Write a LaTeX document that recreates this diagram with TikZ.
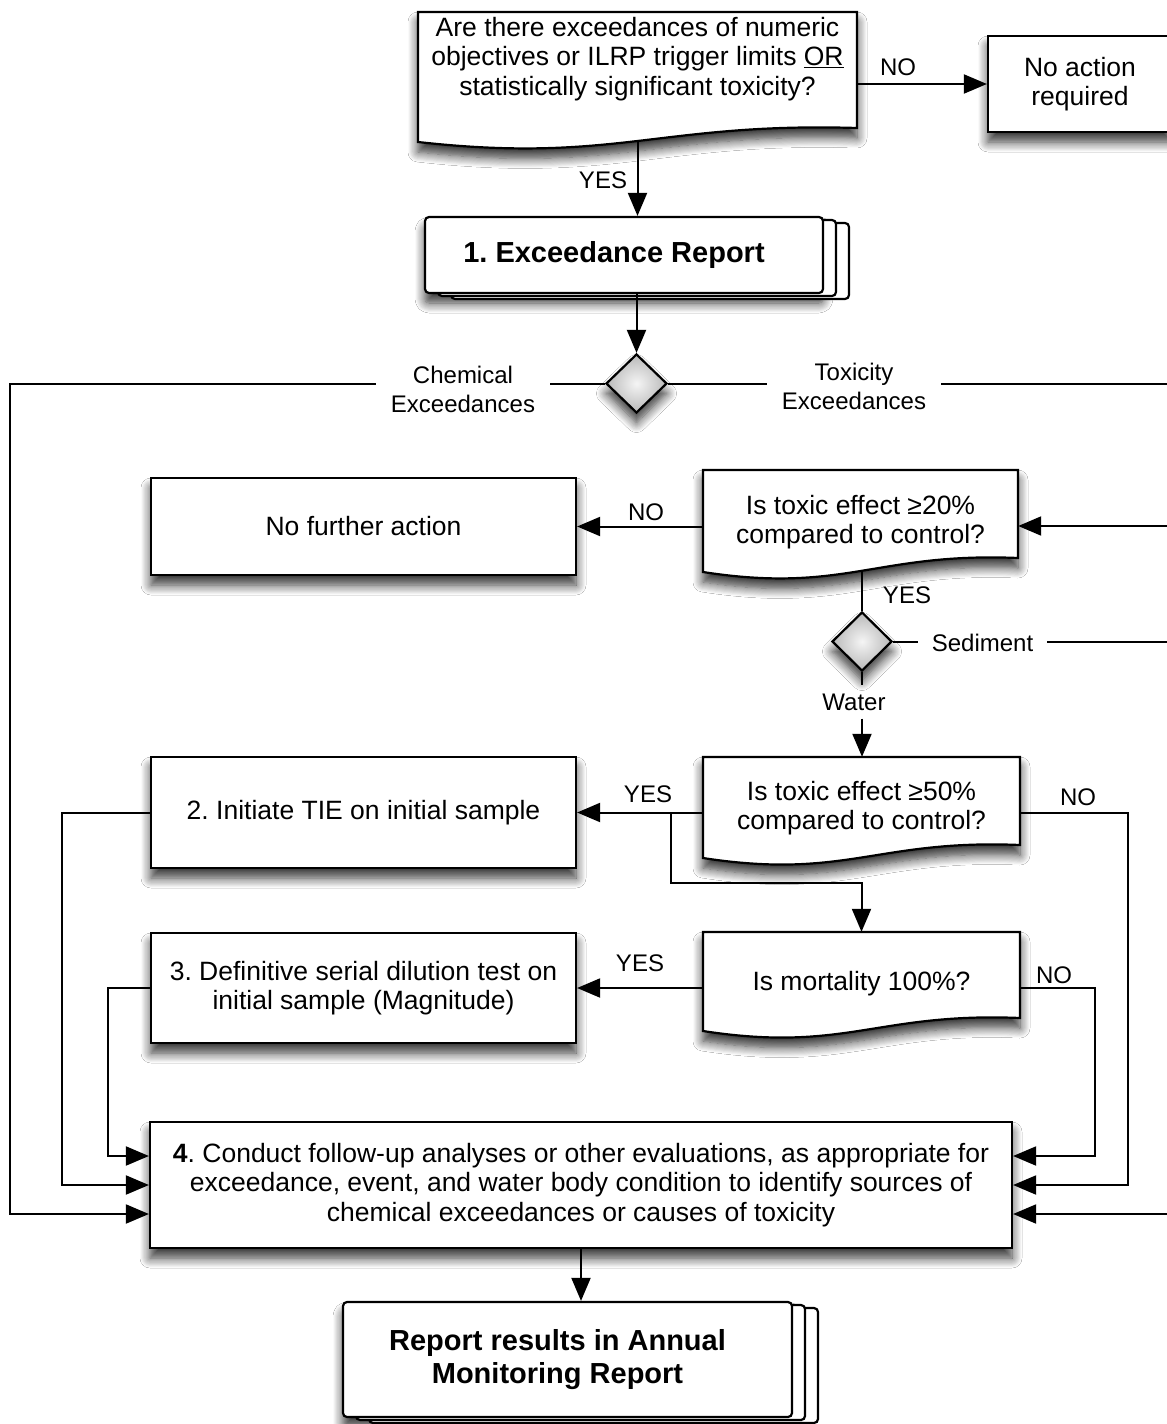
\documentclass[tikz,border=0pt]{standalone}
\usepackage{fontspec}
\setmainfont{Liberation Sans}
\usetikzlibrary{arrows.meta,shapes.geometric,shadows,shadows.blur,calc}
\newcommand\docpath[6]{% name L T R yr yl
  \path[docsh] (#2,#3) -- (#4,#3) -- (#4,#5)
    .. controls ({#4-0.45*(#4-#2)},{#5-6}) and ({#2+0.45*(#4-#2)},{#6+22}) .. (#2,#6) -- cycle;
  \coordinate (#1-bot) at ({(#2+#4)/2},{(#5+#6)/2+6});}
\frenchspacing
\begin{document}
\frenchspacing
\begin{tikzpicture}[x=1pt,y=-1pt,
  every node/.style={inner sep=0pt},
  bodytxt/.style={font=\frenchspacing\fontsize{26.5}{29.5}\selectfont, align=center},
  lbl/.style={font=\fontsize{24}{29}\selectfont, align=center, inner xsep=15pt, inner ysep=4pt},
  boxsh/.style={blur shadow={shadow xshift=0pt, shadow yshift=-10pt, shadow blur radius=10pt, shadow opacity=80, shadow blur steps=10}},
  procbox/.style={draw, line width=2.2pt, fill=white, boxsh, bodytxt},
  multibox/.style={draw, line width=2.2pt, fill=white, rounded corners=4pt, boxsh,
    double copy shadow={shadow xshift=13pt, shadow yshift=-3pt},
    font=\frenchspacing\bfseries\fontsize{29}{33}\selectfont, align=center},
  docsh/.style={draw, line width=2.2pt, fill=white, boxsh},
  qtxt/.style={bodytxt},
  dia/.style={diamond, draw, line width=2.2pt, inner color=gray!8, outer color=gray!55, boxsh},
  conn/.style={line width=2pt},
  arr/.style={conn, -{Triangle[length=23pt,width=19pt,fill=black]}},
]
\useasboundingbox (0,0) rectangle (1167,1424);
\clip (0,0) rectangle (1167,1424);
\fill[white] (0,0) rectangle (1167,1424);

\coordinate (leftrail) at (10,0);
\coordinate (rightrail) at (1172,0);
\coordinate (brx) at (671,0);

% documents (decision shapes)
\docpath{q1}{418}{12}{857}{128}{142}
\node[qtxt, minimum width=439pt, minimum height=94pt] (q1) at (637.5,59)
  {Are there exceedances of numeric\\objectives or ILRP trigger limits \underline{OR}\\statistically significant toxicity?};
\docpath{q20}{703}{470}{1018}{558}{572}
\node[qtxt, minimum width=315pt, minimum height=104pt] (q20) at (860.5,522)
  {Is toxic effect ≥20\%\\compared to control?};
\docpath{q50}{703}{757}{1020}{845}{858}
\node[qtxt, minimum width=317pt, minimum height=102pt] (q50) at (861.5,808)
  {Is toxic effect ≥50\%\\compared to control?};
\docpath{q100}{703}{932}{1020}{1018}{1031}
\node[qtxt, minimum width=317pt, minimum height=104pt] (q100) at (861.5,984)
  {Is mortality 100\%?};

% boxes
\node[procbox, minimum width=184pt, minimum height=96pt] (noact) at (1080,84) {No action\\required};
\node[multibox, minimum width=398pt, minimum height=76pt] (exc) at (624,255) {1. Exceedance Report\hspace*{20pt}};
\node[procbox, minimum width=425pt, minimum height=97pt] (nf) at (363.5,526.5) {No further action};
\node[procbox, minimum width=425pt, minimum height=111pt] (b2) at (363.5,812.5) {2. Initiate TIE on initial sample};
\node[procbox, minimum width=425pt, minimum height=110pt] (b3) at (363.5,988) {3. Definitive serial dilution test on\\initial sample (Magnitude)};
\node[procbox, minimum width=862pt, minimum height=126pt] (b4) at (581,1185)
  {\textbf{4}. Conduct follow-up analyses or other evaluations, as appropriate for\\exceedance, event, and water body condition to identify sources of\\chemical exceedances or causes of toxicity};
\node[multibox, minimum width=449pt, minimum height=115pt] (rep) at (567.5,1359.5) {Report results in Annual\hspace*{20pt}\\Monitoring Report\hspace*{20pt}};

% diamonds
\node[dia, minimum width=61pt, minimum height=59pt] (d1) at (636.5,383.5) {};
\node[dia, minimum width=60pt, minimum height=59pt] (d2) at (862,641.5) {};

% labels
\node[lbl] (chem) at (463,389) {Chemical\\Exceedances};
\node[lbl] (tox) at (854,386) {Toxicity\\Exceedances};
\node[lbl, inner xsep=14pt] (sed) at (982.5,643) {Sediment};
\node[lbl, inner ysep=8pt] (water) at (854,702) {Water};
\node[lbl] (yes1) at (603,180) {YES};
\node[lbl] (no1) at (898,67) {NO};
\node[lbl] (no2) at (646,512) {NO};
\node[lbl] (yes2) at (907,595) {YES};
\node[lbl] (yes3) at (648,794) {YES};
\node[lbl] (no3) at (1078,797) {NO};
\node[lbl] (yes4) at (640,963) {YES};
\node[lbl] (no4) at (1054,975) {NO};

% entry points on box 4
\coordinate (b4e1) at ($(b4.west)+(0,-29)$);
\coordinate (b4e2) at (b4.west);
\coordinate (b4e3) at ($(b4.west)+(0,29)$);
\coordinate (b4r1) at ($(b4.east)+(0,-29)$);
\coordinate (b4r2) at (b4.east);
\coordinate (b4r3) at ($(b4.east)+(0,29)$);
\coordinate (q20in) at ($(q20.east)+(0,4)$);

% connectors
\draw[arr] (q1.east |- noact.west) -- (noact.west);
\draw[arr] (q1-bot) -- (q1-bot |- exc.north);
\draw[arr] (d1 |- exc.south) -- (d1.north);
\draw[conn] (d1.west) -- (d1.west -| chem.east);
\draw[arr] (chem.west |- d1.west) -- (d1.west -| leftrail) -- (leftrail |- b4e3) -- (b4e3);
\draw[conn] (d1.east) -- (d1.east -| tox.west);
\draw[arr] (tox.east |- d1.east) -- (d1.east -| rightrail) -- (rightrail |- b4r3) -- (b4r3);
\draw[arr] (rightrail |- q20in) -- (q20in);
\draw[arr] (q20.west |- nf.east) -- (nf.east);
\draw[conn] (d2.north |- q20-bot) -- (d2.north);
\draw[conn] (d2.east) -- (sed.west |- d2.east);
\draw[conn] (sed.east |- d2.east) -- (d2.east -| rightrail);
\draw[conn] (d2.south) -- (d2.south |- water.north);
\draw[arr] (d2.south |- water.south) -- (d2.south |- q50.north);
\draw[arr] (q50.west |- b2.east) -- (b2.east);
\draw[arr] (brx |- b2.east) -- ++(0,70) -| (q100.north);
\draw[arr] (q50.east |- b2.east) -- ++(108,0) |- (b4r2);
\draw[arr] (q100.west |- b3.east) -- (b3.east);
\draw[arr] (q100.east |- b3.east) -- ++(75,0) |- (b4r1);
\draw[arr] (b3.west) -- ++(-42,0) |- (b4e1);
\draw[arr] (b2.west) -- ++(-88,0) |- (b4e2);
\draw[arr] (b4.south) -- (b4.south |- rep.north);
\end{tikzpicture}
\end{document}
